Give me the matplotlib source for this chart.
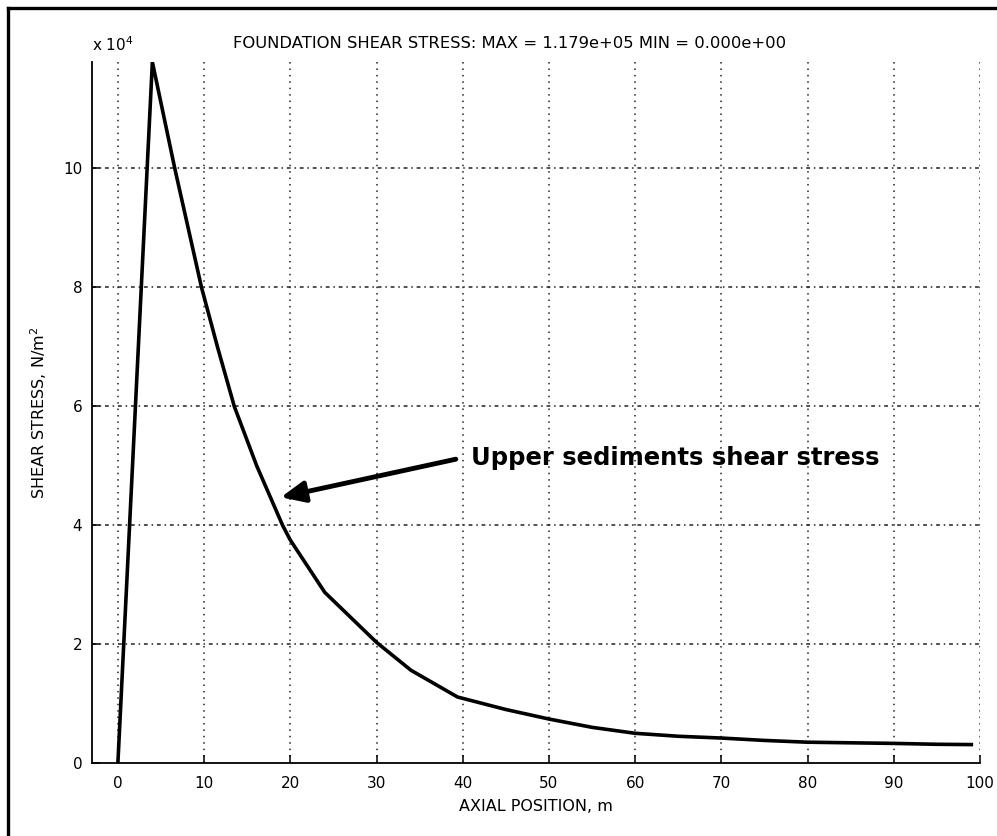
import matplotlib

matplotlib.use("Agg")

import matplotlib.pyplot as plt
from matplotlib.lines import Line2D
from matplotlib.ticker import FuncFormatter

plt.rcParams["font.family"] = ["DejaVu Sans"]
plt.rcParams["mathtext.default"] = "regular"

# axial position (m) and shear stress (N/m^2)
axial_position = [0, 4, 6.6, 9.7, 11.55, 13.5, 16.1, 19.1, 20, 24, 30, 34, 39.4,
                  45, 50, 55, 60, 65, 70, 75, 80, 85, 90, 95, 99]
shear_stress = [0, 117900, 100000, 80000, 70000, 60000, 50000, 40000, 37500,
                28700, 20300, 15600, 11100, 9000, 7400, 6000, 5000, 4500, 4200, 3800,
                3500, 3400, 3300, 3150, 3100]

x_ticks = list(range(0, 101, 10))
y_ticks = [0, 20000, 40000, 60000, 80000, 100000]

title = "FOUNDATION SHEAR STRESS: MAX = 1.179e+05 MIN = 0.000e+00"
note = "Upper sediments shear stress"
note_pos = (41.0, 51300)
arrow_tail = (39.2, 51100)
arrow_tip = (18.9, 44700)

fig = plt.figure(figsize=(9.97, 8.36), dpi=100)
ax = fig.add_axes([0.0923, 0.0873, 0.8906, 0.8385])

ax.plot(axial_position, shear_stress, color="black", linewidth=2.6,
        solid_joinstyle="miter", zorder=3)

ax.set_xlim(-3, 100)
ax.set_ylim(0, max(shear_stress))
ax.set_xticks(x_ticks)
ax.set_yticks(y_ticks)
ax.yaxis.set_major_formatter(FuncFormatter(lambda v, _: f"{v / 1e4:g}"))

for xv in x_ticks:
    ax.axvline(xv, color="#222222", linewidth=1.1, linestyle=(0, (1, 3.2)), zorder=1)
for yv in y_ticks[1:]:
    ax.axhline(yv, color="#222222", linewidth=1.1, linestyle=(0, (2.5, 2.5, 1, 2.5)), zorder=1)

for side in ("top", "right"):
    ax.spines[side].set_visible(False)
for side in ("left", "bottom"):
    ax.spines[side].set_linewidth(1.3)
ax.tick_params(direction="in", length=6, width=1.1, labelsize=11, colors="black")
ax.tick_params(axis="x", pad=9)
ax.tick_params(axis="y", pad=7)

ax.set_xlabel("AXIAL POSITION, m", fontsize=11.5, labelpad=6)
ax.set_ylabel("SHEAR STRESS, N/m$^2$", fontsize=11.5, labelpad=10)
ax.set_title(title, fontsize=11.8, pad=10, x=0.47)
ax.text(0.0, 1.012, "x 10$^4$", transform=ax.transAxes, fontsize=11,
        ha="left", va="bottom")

ax.annotate(
    "",
    xy=arrow_tip,
    xytext=arrow_tail,
    arrowprops=dict(arrowstyle="-|>,head_length=0.9,head_width=0.4", color="black",
                    linewidth=3.5, shrinkA=0, shrinkB=0, mutation_scale=16),
    zorder=4,
)
ax.text(note_pos[0], note_pos[1], note, fontsize=17.5, fontweight="bold",
        ha="left", va="center", zorder=4)

# outer frame (only top and left edges show in the reference)
fig.add_artist(Line2D([0.008, 1.0], [0.991, 0.991], transform=fig.transFigure,
                      color="black", linewidth=2.4))
fig.add_artist(Line2D([0.008, 0.008], [0.0, 0.991], transform=fig.transFigure,
                      color="black", linewidth=2.4))

fig.savefig("out.png", dpi=100)
plt.close(fig)
